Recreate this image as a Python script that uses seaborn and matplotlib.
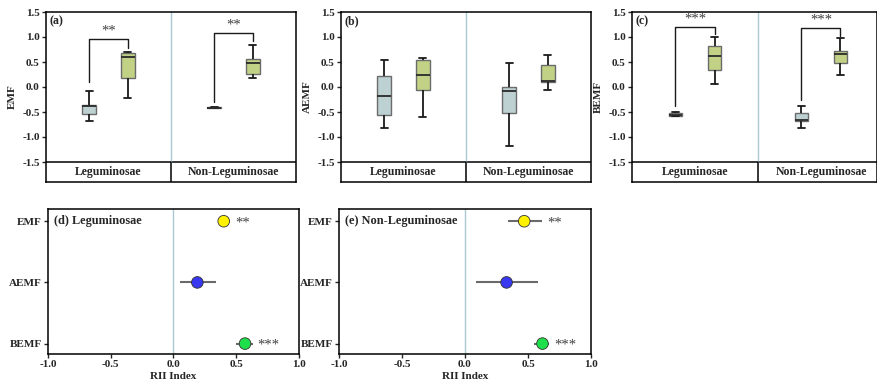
import numpy as np
import pandas as pd
import matplotlib
matplotlib.use("Agg")
import matplotlib.pyplot as plt
import seaborn as sns

sns.set_theme(style="white")
plt.rcParams['font.family'] = ['Liberation Serif', 'DejaVu Serif']
plt.rcParams['font.weight'] = 'bold'
plt.rcParams['axes.unicode_minus'] = False

# ---------------- data ----------------
groups = ["Leguminosae", "Non-Leguminosae"]
treatments = ["Control", "Treatment"]
# five-number summaries (min, q1, median, q3, max)
emf_leg_ctrl = [-0.67, -0.54, -0.37, -0.35, -0.08]
emf_leg_trt = [-0.21, 0.18, 0.61, 0.69, 0.71]
emf_non_ctrl = [-0.42, -0.415, -0.41, -0.405, -0.40]
emf_non_trt = [0.19, 0.27, 0.48, 0.56, 0.85]

aemf_leg_ctrl = [-0.82, -0.56, -0.17, 0.22, 0.55]
aemf_leg_trt = [-0.59, -0.05, 0.25, 0.54, 0.59]
aemf_non_ctrl = [-1.17, -0.51, -0.07, 0.00, 0.48]
aemf_non_trt = [-0.05, 0.10, 0.12, 0.45, 0.65]

bemf_leg_ctrl = [-0.58, -0.57, -0.55, -0.52, -0.49]
bemf_leg_trt = [0.07, 0.35, 0.63, 0.83, 1.00]
bemf_non_ctrl = [-0.81, -0.68, -0.66, -0.52, -0.37]
bemf_non_trt = [0.24, 0.49, 0.66, 0.73, 0.99]

# significance brackets: bar height, left leg end, right leg end, label
emf_br_y = [0.97, 1.08]
emf_br_left = [0.10, -0.30]
emf_br_right = [0.79, 0.93]
emf_br_text = ["**", "**"]
bemf_br_y = [1.21, 1.18]
bemf_br_left = [-0.37, -0.25]
bemf_br_right = [1.06, 1.03]
bemf_br_text = ["***", "***"]

# RII index
rii_labels = ["EMF", "AEMF", "BEMF"]
leg_mean = [0.40, 0.19, 0.57]
leg_lo = [0.36, 0.05, 0.50]
leg_hi = [0.45, 0.34, 0.63]
leg_sig = ["**", "", "***"]
non_mean = [0.47, 0.33, 0.615]
non_lo = [0.34, 0.085, 0.55]
non_hi = [0.61, 0.58, 0.67]
non_sig = ["**", "", "***"]


def make_df(lc, lt, nc, nt):
    rows = []
    for g, t, vals in [(groups[0], treatments[0], lc), (groups[0], treatments[1], lt),
                       (groups[1], treatments[0], nc), (groups[1], treatments[1], nt)]:
        for v in vals:
            rows.append({"Group": g, "Treatment": t, "Value": v})
    return pd.DataFrame(rows)


emf_df = make_df(emf_leg_ctrl, emf_leg_trt, emf_non_ctrl, emf_non_trt)
aemf_df = make_df(aemf_leg_ctrl, aemf_leg_trt, aemf_non_ctrl, aemf_non_trt)
bemf_df = make_df(bemf_leg_ctrl, bemf_leg_trt, bemf_non_ctrl, bemf_non_trt)

# ---------------- figure ----------------
W, H = 878, 390
fig = plt.figure(figsize=(W / 100, H / 100), dpi=100)


def px_axes(left, right, top, bottom):
    return fig.add_axes([left / W, 1 - bottom / H, (right - left) / W, (bottom - top) / H])


box_colors = ["#b9d3d6", "#c8df7a"]
DIV = "#a9c9d2"
BOXW = 0.62
OFF = BOXW / 4
FS = 8
STAR_FS = 10.5


def top_panel(ax, df, ylabel, letter, xmax, br=None):
    sns.boxplot(data=df, x="Group", y="Value", hue="Treatment", order=groups,
                hue_order=treatments, palette=box_colors, width=BOXW, gap=0.65,
                whis=np.inf, linewidth=1.0, linecolor="#6b6b6b", legend=False, ax=ax,
                whiskerprops=dict(color="#1a1a1a", linewidth=1.3),
                capprops=dict(color="#1a1a1a", linewidth=1.3),
                medianprops=dict(color="#2a2a2a", linewidth=1.3))
    ax.set_xlim(-0.5, xmax)
    ax.set_ylim(-1.9, 1.5)
    ax.set_yticks([-1.5, -1.0, -0.5, 0.0, 0.5, 1.0, 1.5])
    ax.set_yticklabels(["-1.5", "-1.0", "-0.5", "0.0", "0.5", "1.0", "1.5"],
                       fontsize=FS, fontweight="bold")
    ax.set_xticks([])
    ax.set_xlabel("")
    ax.set_ylabel(ylabel, fontsize=FS, fontweight="bold", labelpad=4)
    ax.tick_params(axis="y", direction="out", length=3, width=1.0, pad=1.5, left=True)
    for s in ax.spines.values():
        s.set_color("black")
        s.set_linewidth(1.1)
    ax.axhline(-1.5, color="black", lw=1.1)
    ax.plot([0.5, 0.5], [-1.5, 1.5], color=DIV, lw=1.0)
    ax.plot([0.5, 0.5], [-1.9, -1.5], color="black", lw=1.1)
    for i, g in enumerate(groups):
        ax.text(i, -1.7, g, ha="center", va="center", fontsize=8.5, fontweight="bold")
    ax.text(0.015, 0.945, letter, transform=ax.transAxes, ha="left", va="center",
            fontsize=8.5, fontweight="bold")
    if br is not None:
        ys, lefts, rights, texts = br
        for i in range(len(groups)):
            xl, xr = i - OFF, i + OFF
            ax.plot([xl, xl, xr, xr], [lefts[i], ys[i], ys[i], rights[i]],
                    color="#1a1a1a", lw=1.0)
            ax.text(i, ys[i] + 0.02, texts[i], ha="center", va="bottom",
                    fontsize=STAR_FS, color="#404040", fontweight="normal")


ax_a = px_axes(46, 296, 12, 182)
top_panel(ax_a, emf_df, "EMF", "(a)", 1.5, (emf_br_y, emf_br_left, emf_br_right, emf_br_text))
ax_b = px_axes(341, 591, 12, 182)
top_panel(ax_b, aemf_df, "AEMF", "(b)", 1.5)
ax_c = px_axes(632, 877, 12, 182)
top_panel(ax_c, bemf_df, "BEMF", "(c)", 1.445, (bemf_br_y, bemf_br_left, bemf_br_right, bemf_br_text))

point_colors = ["#fff200", "#3838f0", "#1ee04a"]


def bottom_panel(ax, mean, lo, hi, sig, title):
    rdf = pd.DataFrame({"Metric": rii_labels, "RII": mean, "lo": lo, "hi": hi})
    ax.hlines(rdf["Metric"], rdf["lo"], rdf["hi"], color="#6a6a6a", lw=1.5, zorder=2)
    sns.scatterplot(data=rdf, x="RII", y="Metric", hue="Metric", palette=point_colors,
                    s=70, edgecolor="#333333", linewidth=0.6, legend=False, zorder=3, ax=ax)
    ax.set_xlim(-1, 1)
    ax.set_ylim(2.17, -0.2)
    ax.axvline(0, color=DIV, lw=1.0, zorder=1)
    ax.set_xticks([-1.0, -0.5, 0.0, 0.5, 1.0])
    ax.set_xticklabels(["-1.0", "-0.5", "0.0", "0.5", "1.0"], fontsize=FS, fontweight="bold")
    ax.set_yticks(range(len(rii_labels)))
    ax.set_yticklabels(rii_labels, fontsize=FS, fontweight="bold")
    ax.tick_params(axis="both", direction="out", length=3, width=1.0, pad=1.5,
                   left=True, bottom=True)
    ax.set_xlabel("RII Index", fontsize=FS, fontweight="bold", labelpad=2)
    ax.set_ylabel("")
    for s in ax.spines.values():
        s.set_color("black")
        s.set_linewidth(1.1)
    for i, t in enumerate(sig):
        if t:
            ax.text(hi[i] + 0.04, i + 0.03, t, ha="left", va="center", fontsize=STAR_FS,
                    color="#404040", fontweight="normal")
    ax.text(0.025, 0.915, title, transform=ax.transAxes, ha="left", va="center",
            fontsize=8.8, fontweight="bold")


ax_d = px_axes(48, 299, 209, 354)
bottom_panel(ax_d, leg_mean, leg_lo, leg_hi, leg_sig, "(d) Leguminosae")
ax_e = px_axes(339, 591, 209, 354)
bottom_panel(ax_e, non_mean, non_lo, non_hi, non_sig, "(e) Non-Leguminosae")

fig.savefig("out.png", dpi=100, facecolor="white")
